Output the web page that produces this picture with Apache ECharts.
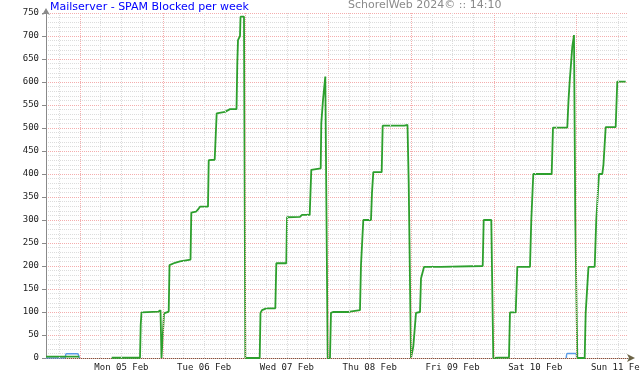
<!DOCTYPE html>
<html><head><meta charset="utf-8">
<script src="https://cdn.jsdelivr.net/npm/echarts@6/dist/echarts.min.js"></script>
<style>html,body{margin:0;padding:0;background:#fff}#c{width:640px;height:380px}</style>
</head><body><div id="c"></div>
<script>
// ---- data (x = hours since Mon 05 Feb 00:00) ----
const titleText = 'Mailserver - SPAM Blocked per week';
const watermarkText = 'SchorelWeb 2024\u00a9 :: 14:10';
const xStartHour = -9.86;
const xEndHour = 158.89;
const dayLabels = ['Mon 05 Feb','Tue 06 Feb','Wed 07 Feb','Thu 08 Feb','Fri 09 Feb','Sat 10 Feb','Sun 11 Feb'];
const dayLabelHours = [12, 36, 60, 84, 108, 132, 156];
const yMax = 750;

const greenHours = [
  -9.86, -0.20, -0.10,
  9.19, 17.40, 17.60, 17.83, 22.76, 23.05, 23.34, 23.63, 24.07, 24.36, 24.93, 25.72, 25.95,
  27.54, 28.99, 32.04, 32.27, 33.63, 34.21, 34.79, 37.11, 37.32, 39.05, 39.63, 42.04, 43.49,
  45.38, 45.61, 45.81, 46.39, 46.54, 47.55, 47.93, 52.10, 52.33, 52.77, 54.02, 56.63, 56.92,
  59.81, 60.02, 63.79, 64.37, 66.60, 67.06, 67.56, 69.79, 69.96, 70.46, 70.75, 71.12, 71.82,
  72.48, 72.77, 73.35, 77.70, 78.28, 81.18, 81.47, 82.14, 84.37, 84.66, 85.04, 87.47, 87.76,
  94.03, 94.95, 95.30, 95.97, 96.26, 96.64, 97.42, 98.58, 98.87, 99.74, 104.67, 104.96,
  116.76, 117.05, 119.25, 119.83, 121.48, 124.38, 124.67, 126.33, 126.79, 130.47, 130.85,
  131.43, 136.76, 137.14, 141.29, 141.64, 141.98, 142.74, 143.08, 143.23, 143.61, 144.19,
  146.33, 146.62, 147.14, 147.43, 149.23, 149.69, 150.48, 151.44, 151.78, 152.42, 155.32,
  155.78, 158.22
];
const greenValues = [
  3, 3, null,
  0.5, 0.5, 72, 99, 101, 104, 104, 0, 0, 97, 100, 101, 202,
  207, 210, 214, 316, 318, 323, 329, 329, 430, 431, 532, 535, 541,
  541, 642, 691, 700, 742, 742, 0, 0, 98, 104, 108, 108, 206,
  206, 306, 307, 311, 311, 409, 412, 412, 510, 561, 560, 612, 0,
  0, 98, 100, 100, 101, 104, 202, 300, 300, 359, 404, 404, 505,
  505, 507, 383, 0, 0, 25, 98, 100, 173, 198, 198, 200,
  200, 300, 300, 0, 1, 1, 99, 99, 198, 198, 300,
  400, 400, 501, 501, 560, 601, 677, 680, 702, 300, 0,
  0, 98, 100, 198, 198, 300, 400, 400, 421, 502, 502,
  601, 601
];
const blueHours  = [-9.86, -4.40, -4.00, -0.75, -0.25, 0.0, 141.00, 141.35, 143.65, 144.00];
const blueValues = [0, 0, 9, 9, 0, null, 0, 10, 10, 0];

// ---- build ----
const pairs = (xs, ys) => xs.map((x, i) => [x, ys[i] === null ? '-' : ys[i]]);
const gridHours = [];
for (let h = -6; h <= 156; h += 6) gridHours.push(h);

const RED = '#f4adad', GREY = '#dcdcdc';
const chart = echarts.init(document.getElementById('c'), null, {renderer: 'canvas'});
chart.setOption({
  animation: false,
  backgroundColor: '#ffffff',
  title: [
    {text: titleText, left: 50, top: 2, padding: 0,
     textStyle: {fontFamily: 'DejaVu Sans', fontSize: 11, fontWeight: 'normal', color: '#0000ff'}},
    {text: watermarkText, left: 348, top: 0, padding: 0,
     textStyle: {fontFamily: 'DejaVu Sans', fontSize: 11, fontWeight: 'normal', color: '#8a8a8a'}}
  ],
  grid: {left: 46, right: 12, top: 13, bottom: 22, containLabel: false, outerBoundsMode: 'none'},
  xAxis: [{
    type: 'value', min: xStartHour, max: xEndHour,
    axisLine: {show: true, onZero: false, lineStyle: {color: '#6b6346', width: 1},
               symbol: ['none', 'arrow'], symbolSize: [6, 8], symbolOffset: [0, 7]},
    axisTick: {show: false},
    splitLine: {show: false},
    axisLabel: {
      customValues: dayLabelHours,
      formatter: v => { const i = dayLabelHours.indexOf(Math.round(v)); return i >= 0 ? dayLabels[i] : ''; },
      fontFamily: 'DejaVu Sans Mono', fontSize: 9, color: '#222', margin: 5,
      showMinLabel: true, showMaxLabel: true, hideOverlap: false
    }
  }],
  yAxis: [{
    type: 'value', min: 0, max: yMax, interval: 50, z: 2,
    axisLine: {show: true, onZero: false, lineStyle: {color: '#8a8a8a', width: 1},
               symbol: ['none', 'arrow'], symbolSize: [6, 7], symbolOffset: [0, 5]},
    axisTick: {show: true, length: 4, lineStyle: {color: '#8a8a8a'}},
    axisLabel: {fontFamily: 'DejaVu Sans Mono', fontSize: 9, color: '#222', margin: 7},
    splitLine: {show: true, lineStyle: {color: RED, type: 'dotted', width: 1}}
  }, {
    type: 'value', min: 0, max: yMax, interval: 10, z: 1,
    axisLine: {show: false, onZero: false}, axisTick: {show: false}, axisLabel: {show: false},
    splitLine: {show: true, lineStyle: {color: GREY, type: 'dotted', width: 1}}
  }],
  series: [
    {type: 'line', data: [], z: 1, silent: true,
     markLine: {silent: true, animation: false, symbol: ['none', 'none'], label: {show: false},
       data: gridHours.map(h => ({xAxis: h, lineStyle: {color: h % 24 === 0 ? RED : GREY, type: 'dotted', width: 1}}))}},
    {type: 'line', name: 'blue', data: pairs(blueHours, blueValues), showSymbol: false, symbol: 'none',
     smooth: 0.3, connectNulls: false, z: 3, lineStyle: {color: '#5a9be6', width: 1.5}},
    {type: 'line', name: 'green', data: pairs(greenHours, greenValues), showSymbol: false, symbol: 'none',
     connectNulls: false, z: 4, lineStyle: {color: '#2d9f2d', width: 1.8}}
  ]
});
</script></body></html>
